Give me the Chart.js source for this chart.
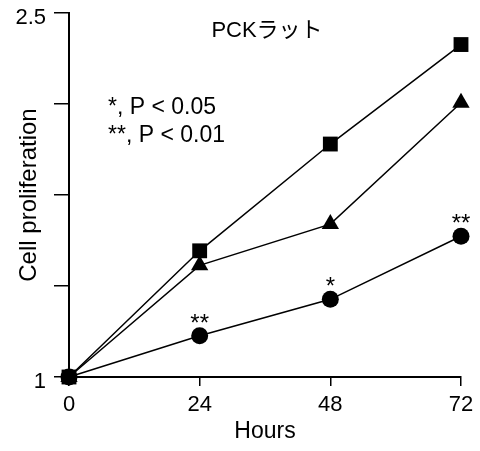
<!DOCTYPE html>
<html>
<head>
<meta charset="utf-8">
<script src="https://cdn.jsdelivr.net/npm/chart.js@4.4.1/dist/chart.umd.min.js"></script>
<style>
  body { margin: 0; background: #fff; }
</style>
</head>
<body>
<canvas id="chart" width="480" height="451"></canvas>
<script>
const hours = [0, 24, 48, 72];
const squareValues = [1, 1.52, 1.96, 2.37];
const triangleValues = [1, 1.46, 1.63, 2.13];
const circleValues = [1, 1.17, 1.32, 1.58];
const circleMarks = ['', '**', '*', '**'];
const yTicks = [1, 1.375, 1.75, 2.125, 2.5];
const yTickLabels = ['1', '', '', '', '2.5'];
const notes = ['*, P < 0.05', '**, P < 0.01'];
const titleText = 'PCKラット';

const fontFamily = "'Liberation Sans', Arial, 'Noto Sans CJK JP', sans-serif";

function points(values) {
    return hours.map((h, i) => ({x: h, y: values[i]}));
}

function series(label, values, style, radius) {
    return {
        label: label,
        data: points(values),
        borderColor: '#000',
        borderWidth: 1.5,
        backgroundColor: '#000',
        pointStyle: style,
        pointRadius: radius,
        pointHoverRadius: radius,
        pointBorderWidth: 0,
        clip: false,
    };
}

const textPlugin = {
    id: 'texts',
    afterDatasetsDraw(chart) {
        const ctx = chart.ctx;
        const area = chart.chartArea;
        const x = chart.scales.x;
        const y = chart.scales.y;
        ctx.save();
        ctx.fillStyle = '#000';

        // title
        ctx.font = '22px ' + fontFamily;
        ctx.textAlign = 'center';
        ctx.textBaseline = 'middle';
        ctx.fillText(titleText, area.left + 198, area.top + 18);

        // p-value notes
        ctx.font = '23px ' + fontFamily;
        ctx.textAlign = 'left';
        notes.forEach((t, i) => ctx.fillText(t, area.left + 39, area.top + 95 + i * 28));

        // significance marks over the circles
        ctx.font = '24px ' + fontFamily;
        ctx.textAlign = 'center';
        ctx.textBaseline = 'alphabetic';
        circleMarks.forEach((m, i) => {
            if (!m) return;
            ctx.fillText(m, x.getPixelForValue(hours[i]), y.getPixelForValue(circleValues[i]) - 5);
        });
        ctx.restore();
    }
};

new Chart(document.getElementById('chart').getContext('2d'), {
    type: 'line',
    data: {
        datasets: [
            series('square', squareValues, 'rect', 10.5),
            series('triangle', triangleValues, 'triangle', 10),
            series('circle', circleValues, 'circle', 8.5),
        ]
    },
    options: {
        responsive: false,
        animation: false,
        layout: {padding: {top: 13, right: 19, left: 0, bottom: 0}},
        plugins: {
            legend: {display: false},
            tooltip: {enabled: false},
        },
        scales: {
            x: {
                type: 'linear',
                min: 0,
                max: 72,
                afterBuildTicks: axis => { axis.ticks = hours.map(h => ({value: h})); },
                afterFit: axis => {
                    axis.height = 74;
                    axis.paddingLeft = 0;
                    axis.paddingRight = 0;
                },
                grid: {drawOnChartArea: false, drawTicks: true, tickLength: 9, color: '#000', lineWidth: 1.5},
                border: {display: true, color: '#000', width: 2},
                ticks: {color: '#000', font: {size: 22, family: fontFamily}, padding: 6, maxRotation: 0},
                title: {display: true, text: 'Hours', color: '#000', font: {size: 23, family: fontFamily}, padding: {top: 0, bottom: 6}},
            },
            y: {
                min: 1,
                max: 2.5,
                afterBuildTicks: axis => { axis.ticks = yTicks.map(v => ({value: v})); },
                afterFit: axis => {
                    axis.width = 69;
                    axis.paddingTop = 0;
                    axis.paddingBottom = 0;
                },
                grid: {drawOnChartArea: false, drawTicks: true, tickLength: 15, color: '#000', lineWidth: 1.5},
                border: {display: true, color: '#000', width: 2},
                ticks: {
                    color: '#000',
                    font: {size: 22, family: fontFamily},
                    padding: 8,
                    labelOffset: 5,
                    callback: (v, i) => yTickLabels[i],
                },
                title: {display: true, text: 'Cell proliferation', color: '#000', font: {size: 24, family: fontFamily}, padding: {top: 15, bottom: 0}},
            }
        }
    },
    plugins: [textPlugin]
});
</script>
</body>
</html>
